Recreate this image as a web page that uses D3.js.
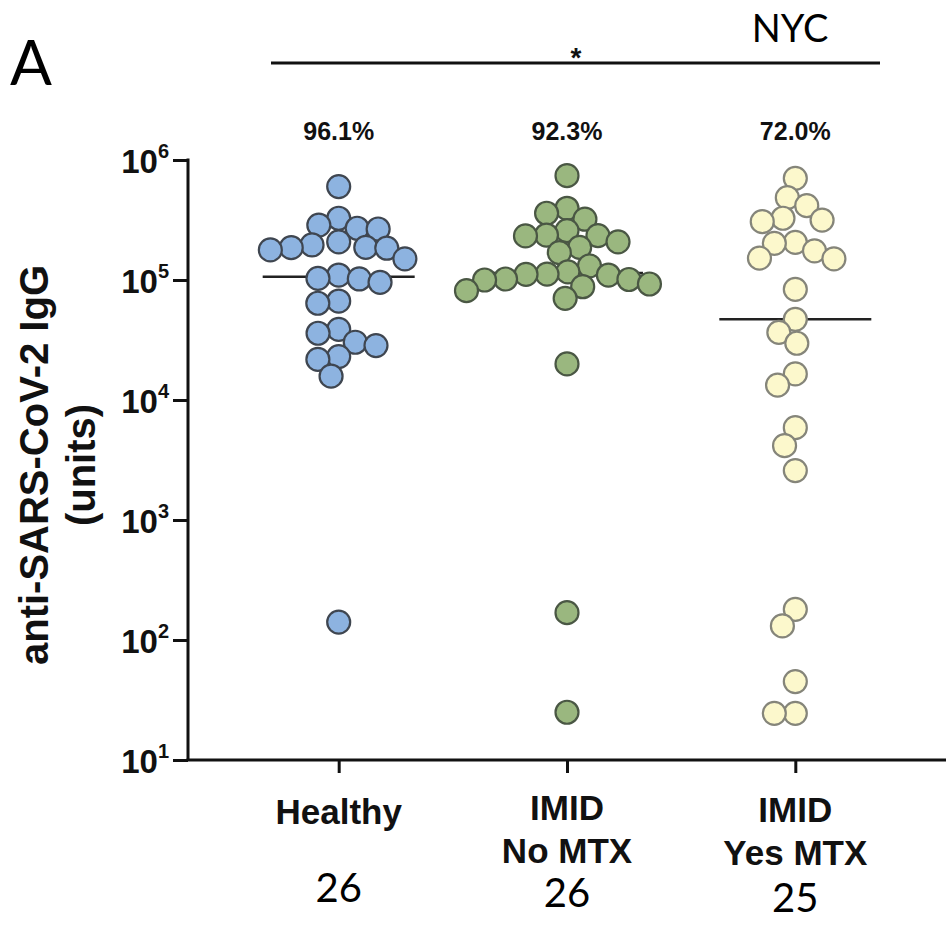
<!DOCTYPE html>
<html>
<head>
<meta charset="utf-8">
<style>
  body { margin: 0; background: #fff; }
  .bold { font-family: 'Liberation Sans', Arial, sans-serif; font-weight: bold; fill: #111; }
  .light { font-family: Lato, 'Open Sans', sans-serif; fill: #000; }
</style>
</head>
<body>
<svg width="948" height="936"></svg>
<script src="https://d3js.org/d3.v7.min.js"></script>
<script>

// groups on the x axis
var groups = ["Healthy", "IMID No MTX", "IMID Yes MTX"];
var groupLines = [["Healthy"], ["IMID", "No MTX"], ["IMID", "Yes MTX"]];
var percents = ["96.1%", "92.3%", "72.0%"];
var counts = ["26", "26", "25"];

// anti-SARS-CoV-2 IgG units
var healthy = [600000, 327000, 266000, 287000, 270000, 186000, 187000, 196000, 208000,
  178000, 184000, 150000, 95700, 102000, 103000, 110000, 64000, 66800, 36000, 38800,
  28400, 30300, 21800, 23000, 15800, 141];
var noMtx = [740000, 360000, 396000, 321000, 258000, 233000, 208000, 234000, 237000,
  187000, 169000, 131000, 110000, 112000, 111500, 101900, 87900, 92600, 81500, 101000,
  100000, 117000, 70400, 20000, 169, 25];
var yesMtx = [704000, 485000, 416000, 327000, 316000, 306000, 202000, 206000, 150000,
  175000, 152000, 83600, 47000, 36600, 29700, 16500, 13300, 5880, 4160, 2580,
  180, 131, 45, 24.5, 24.5];

var yTicks = [10, 100, 1000, 10000, 100000, 1000000];

var series = [healthy, noMtx, yesMtx];
var fills = ["#8db3e0", "#9ab77f", "#fcf8cc"];
var strokes = ["#3f4650", "#4a5744", "#85857a"];

var svg = d3.select("svg");
var plotLeft = 188, plotRight = 946, plotTop = 160, plotBottom = 760;

var x = d3.scalePoint().domain(groups).range([plotLeft, plotRight]).padding(0.66);
var y = d3.scaleLog().domain([10, 1e6]).range([plotBottom, plotTop]);

// y axis
var ya = svg.append("g")
  .attr("transform", "translate(" + plotLeft + ",0)")
  .call(d3.axisLeft(y).tickValues(yTicks).tickSize(15).tickFormat(function () { return ""; }));
ya.select(".domain").attr("stroke", "#111").attr("stroke-width", 3)
  .attr("d", "M0," + (plotTop - 1.5) + "V" + plotBottom);
ya.selectAll(".tick line").attr("stroke", "#111").attr("stroke-width", 3);
ya.selectAll(".tick").each(function (d) {
  var t = d3.select(this).append("text")
    .attr("class", "bold")
    .attr("x", -19)
    .attr("y", 12)
    .attr("text-anchor", "end")
    .attr("font-size", 33);
  t.append("tspan").text("10");
  t.append("tspan").attr("dy", -15).attr("font-size", 20).text(Math.round(Math.log10(d)));
});

// x axis
var xa = svg.append("g")
  .attr("transform", "translate(0," + plotBottom + ")")
  .call(d3.axisBottom(x).tickSize(13).tickFormat(function () { return ""; }));
xa.select(".domain").attr("stroke", "#111").attr("stroke-width", 3)
  .attr("d", "M" + (plotLeft - 1.5) + ",0H" + plotRight);
xa.selectAll(".tick line").attr("stroke", "#111").attr("stroke-width", 3);

// category labels, percentages and counts
groups.forEach(function (g, i) {
  var lines = groupLines[i];
  var t = svg.append("text")
    .attr("class", "bold")
    .attr("x", x(g))
    .attr("text-anchor", "middle")
    .attr("font-size", 35)
    .attr("y", lines.length === 1 ? 824 : 818 + i * 2);
  lines.forEach(function (l, k) {
    t.append("tspan").attr("x", x(g)).attr("dy", k === 0 ? 0 : 43).text(l);
  });
  svg.append("text")
    .attr("class", "light")
    .attr("x", x(g))
    .attr("y", 902 + i * 5)
    .attr("text-anchor", "middle")
    .attr("font-size", 40)
    .text(counts[i]);
  svg.append("text")
    .attr("class", "bold")
    .attr("x", x(g))
    .attr("y", 140)
    .attr("text-anchor", "middle")
    .attr("font-size", 25)
    .text(percents[i]);
});

// y axis title
svg.append("text")
  .attr("class", "bold")
  .attr("transform", "translate(48,465) rotate(-90)")
  .attr("text-anchor", "middle")
  .attr("font-size", 40)
  .text("anti-SARS-CoV-2 IgG");
svg.append("text")
  .attr("class", "bold")
  .attr("transform", "translate(95,465) rotate(-90)")
  .attr("text-anchor", "middle")
  .attr("font-size", 40)
  .text("(units)");

// simple beeswarm: each dot goes to the free spot closest to the group centre
function swarm(values, cx, dist) {
  var placed = [];
  return values.slice().sort(d3.descending).map(function (v) {
    var py = y(v);
    var blocked = [];
    placed.forEach(function (p) {
      var dy = Math.abs(p.y - py);
      if (dy < dist) {
        var dx = Math.sqrt(dist * dist - dy * dy);
        blocked.push([p.x - dx, p.x + dx]);
      }
    });
    var cands = [cx];
    blocked.forEach(function (b) { cands.push(b[0], b[1]); });
    cands.sort(function (a, b) { return Math.abs(a - cx) - Math.abs(b - cx); });
    var px = cands.find(function (c) {
      return blocked.every(function (b) { return c <= b[0] + 1e-6 || c >= b[1] - 1e-6; });
    });
    placed.push({ x: px, y: py });
    return { v: v, x: px, y: py };
  });
}

series.forEach(function (s, i) {
  var cx = x(groups[i]);
  var my = y(d3.median(s));
  // median line
  svg.append("line")
    .attr("x1", cx - 76).attr("x2", cx + 76)
    .attr("y1", my).attr("y2", my)
    .attr("stroke", "#222").attr("stroke-width", 2.5);

  svg.append("g").selectAll("circle")
    .data(swarm(s, cx, 21))
    .join("circle")
    .attr("cx", function (d) { return d.x; })
    .attr("cy", function (d) { return d.y; })
    .attr("r", 11.5)
    .attr("fill", fills[i])
    .attr("stroke", strokes[i])
    .attr("stroke-width", 2.2);
});

// significance bar, panel letter, site
svg.append("line")
  .attr("x1", 271).attr("x2", 880).attr("y1", 63).attr("y2", 63)
  .attr("stroke", "#111").attr("stroke-width", 3);
svg.append("text").attr("class", "bold").attr("x", 576).attr("y", 67)
  .attr("text-anchor", "middle").attr("font-size", 28).text("*");
svg.append("text").attr("class", "light").attr("x", 10).attr("y", 85)
  .attr("font-size", 62).text("A");
svg.append("text").attr("class", "light").attr("x", 790).attr("y", 42)
  .attr("text-anchor", "middle").attr("font-size", 38).text("NYC");

</script>
</body>
</html>
